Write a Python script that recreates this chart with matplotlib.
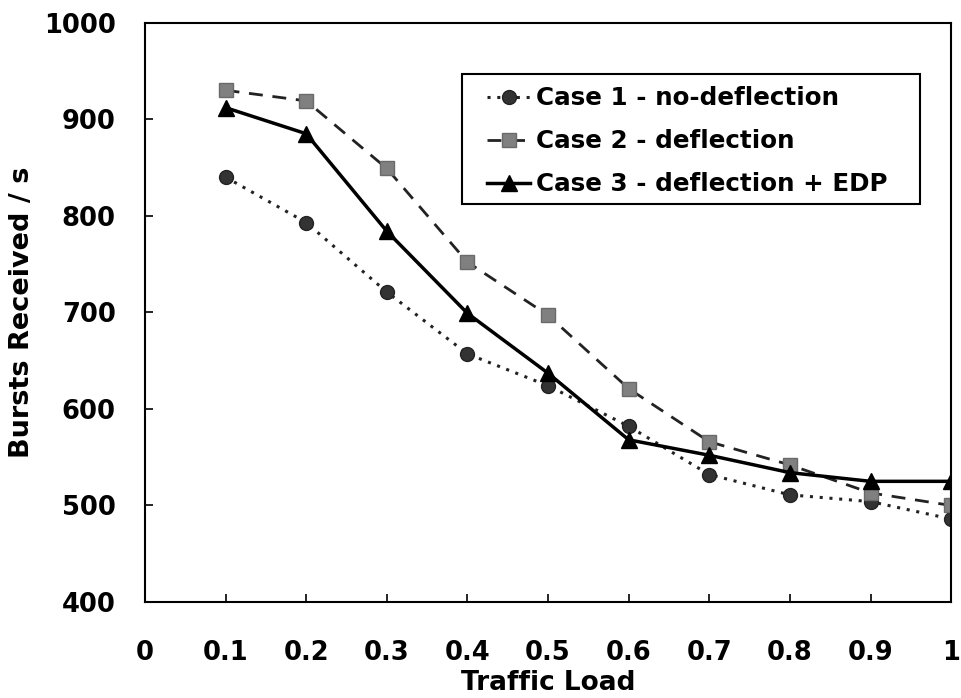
import matplotlib
matplotlib.use("Agg")
import matplotlib.pyplot as plt
from matplotlib.patches import Rectangle

load = [0.1, 0.2, 0.3, 0.4, 0.5, 0.6, 0.7, 0.8, 0.9, 1.0]
case1 = [840, 793, 721, 657, 624, 582, 532, 511, 504, 486]
case2 = [930, 919, 849, 752, 697, 621, 566, 542, 513, 500]
case3 = [912, 885, 784, 699, 637, 568, 552, 534, 525, 525]
labels = ["Case 1 - no-deflection", "Case 2 - deflection", "Case 3 - deflection + EDP"]
xticks = [0, 0.1, 0.2, 0.3, 0.4, 0.5, 0.6, 0.7, 0.8, 0.9, 1]
xticklabels = ["0", "0.1", "0.2", "0.3", "0.4", "0.5", "0.6", "0.7", "0.8", "0.9", "1"]
yticks = [400, 500, 600, 700, 800, 900, 1000]

plt.rcParams['font.family'] = ['DejaVu Sans']
plt.rcParams['font.weight'] = 'bold'

fig = plt.figure(figsize=(9.62, 6.98), dpi=100)
ax = fig.add_axes([0.1507, 0.1375, 0.838, 0.830])

ax.plot(load, case1, linestyle=(0, (1, 2.2)), color='#222222', linewidth=2.2,
        marker='o', markersize=10, markerfacecolor='#333333', markeredgecolor='#222222',
        label=labels[0])
ax.plot(load, case2, linestyle=(0, (5, 3.5)), color='#222222', linewidth=2.0,
        marker='s', markersize=10.5, markerfacecolor='#808080', markeredgecolor='#6a6a6a',
        label=labels[1])
ax.plot(load, case3, linestyle='-', color='black', linewidth=2.5,
        marker='^', markersize=11, markerfacecolor='black', markeredgecolor='black',
        label=labels[2])

ax.set_xlim(0, 1)
ax.set_ylim(400, 1000)
ax.set_xticks(xticks)
ax.set_xticklabels(xticklabels)
ax.set_yticks(yticks)
ax.tick_params(axis='both', direction='in', length=6, width=1.2, labelsize=18.5)
ax.tick_params(axis='x', pad=27)
ax.tick_params(axis='y', pad=21)
for lab in ax.get_xticklabels() + ax.get_yticklabels():
    lab.set_fontweight('bold')

for s in ax.spines.values():
    s.set_linewidth(1.5)
    s.set_color('black')

ax.set_xlabel("Traffic Load", fontsize=19, fontweight='bold')
ax.set_ylabel("Bursts Received / s", fontsize=19.5, fontweight='bold')
ax.xaxis.set_label_coords(0.5, -0.117)
ax.yaxis.set_label_coords(-0.137, 0.5)

# legend frame drawn separately (wider horizontal padding as in the reference)
ax.add_patch(Rectangle((0.3933, 0.687), 0.9615 - 0.3933, 0.9114 - 0.687,
                       transform=ax.transAxes, facecolor='white', edgecolor='black',
                       linewidth=1.5, zorder=4))
leg = ax.legend(loc='upper left', bbox_to_anchor=(0.4243, 0.890), borderaxespad=0,
                frameon=False, handlelength=1.75, handletextpad=0.25, labelspacing=0.77,
                borderpad=0, prop={'weight': 'bold', 'size': 17.7})
leg.set_zorder(5)

fig.savefig("out.png", dpi=100)
